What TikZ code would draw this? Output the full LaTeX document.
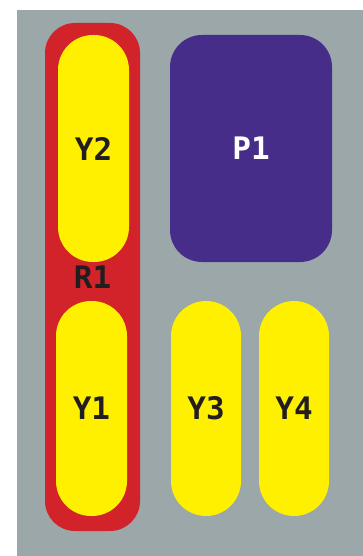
\documentclass[tikz,border=0pt]{standalone}
\usepackage{fontspec}
\newfontfamily\boxlabelfont{DejaVu Sans Mono}
\definecolor{panelgray}{RGB}{155,167,169}
\definecolor{regionred}{RGB}{210,35,42}
\definecolor{unityellow}{RGB}{255,240,0}
\definecolor{blockpurple}{RGB}{71,45,138}
\definecolor{labeldark}{RGB}{34,30,32}
\tikzset{
  block/.style={rectangle, inner sep=0pt, outer sep=0pt, draw=none,
    font=\boxlabelfont\bfseries\fontsize{31}{31}\selectfont, text=labeldark},
  pill/.style={block, fill=unityellow, minimum width=71pt, rounded corners=35pt},
  region/.style={block, fill=regionred, minimum width=95pt, rounded corners=30pt},
  panel/.style={block, fill=blockpurple, text=white, rounded corners=32pt},
}
\begin{document}
\begin{tikzpicture}[x=1pt, y=-1pt]
  \useasboundingbox (0,0) rectangle (363,556);
  % background panel
  \fill[panelgray] (17,10) rectangle (363,556);
  % red region holding two units
  \node[region, minimum height=508pt] (r1) at (92.5,277) {R1};
  \node[pill, minimum height=227pt] (y2) at (93.5,148.5) {Y2};
  \node[pill, minimum height=215pt] (y1) at (91.5,408.5) {Y1};
  % purple block
  \node[panel, minimum width=162pt, minimum height=227pt] (p1) at (251,148.5) {P1};
  % free units
  \node[pill, minimum width=70pt, minimum height=215pt] (y3) at (206,408.5) {Y3};
  \node[pill, minimum width=70pt, minimum height=215pt] (y4) at (294,408.5) {Y4};
\end{tikzpicture}
\end{document}
